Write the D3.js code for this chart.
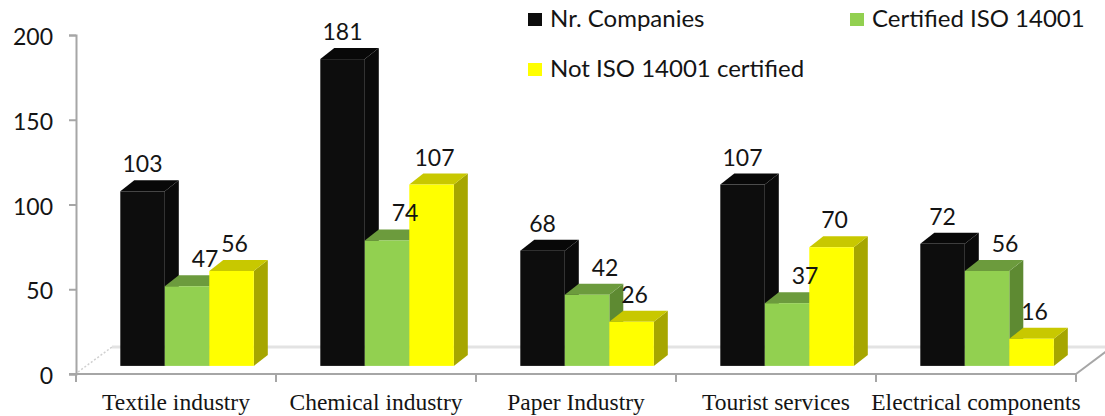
<!DOCTYPE html>
<html>
<head>
<meta charset="utf-8">
<script src="https://cdn.jsdelivr.net/npm/d3@7"></script>
<style>
  body { margin: 0; background: #fff; }
  svg { display: block; }
</style>
</head>
<body>
<svg width="1105" height="416"></svg>
<script>
// data
var categories = ["Textile industry", "Chemical industry", "Paper Industry", "Tourist services", "Electrical components"];
var seriesNames = ["Nr. Companies", "Certified ISO 14001", "Not ISO 14001 certified"];
var nrCompanies = [103, 181, 68, 107, 72];
var certified = [47, 74, 42, 37, 56];
var notCertified = [56, 107, 26, 70, 16];
var yTicks = [0, 50, 100, 150, 200];

// colours per series: front, top, side
var colors = [
  { front: "#0d0d0d", top: "#080808", side: "#0a0a0a" },
  { front: "#92d050", top: "#6c9b3d", side: "#5e8a32" },
  { front: "#ffff00", top: "#c8c800", side: "#a6a600" }
];
var labelShift = [0, 18, 3];

var values = [nrCompanies, certified, notCertified];

var svg = d3.select("svg");
var axisColor = "#a6a6a6";
var textColor = "#141414";
var sans = "Lato, 'Open Sans', sans-serif";

// scales
var x = d3.scaleBand()
    .domain(categories)
    .range([76, 1076]);

// group of ~133px centred in each 200px band
var xInner = d3.scaleBand()
    .domain(d3.range(seriesNames.length))
    .range([33.5, x.bandwidth() - 33]);

var y = d3.scaleLinear()
    .domain([0, 200])
    .range([374, 35]);

// depth of the floor and of the bars
var floorD = { x: 36, y: -27 };
var barOff = { x: floorD.x * 0.3, y: floorD.y * 0.3 };
var barD = { x: 14, y: -11 };

// floor
var x0 = x.range()[0], x1 = x.range()[1], y0 = y(0);
svg.append("line")
    .attr("x1", x0 + floorD.x).attr("y1", y0 + floorD.y)
    .attr("x2", x1 + floorD.x).attr("y2", y0 + floorD.y)
    .attr("stroke", "#e3e3e3").attr("stroke-width", 3);
svg.append("line")
    .attr("x1", x0 + 2).attr("y1", y0 - 2)
    .attr("x2", x0 + floorD.x).attr("y2", y0 + floorD.y)
    .attr("stroke", "#d0d0d0").attr("stroke-width", 1.5)
    .attr("stroke-dasharray", "2,2");
svg.append("line")
    .attr("x1", x1).attr("y1", y0)
    .attr("x2", x1 + floorD.x).attr("y2", y0 + floorD.y)
    .attr("stroke", axisColor).attr("stroke-width", 2);

// y axis
var yAxis = svg.append("g")
    .attr("transform", "translate(" + x0 + ",0)")
    .call(d3.axisLeft(y).tickValues(yTicks).tickSize(7).tickPadding(16));
yAxis.select(".domain").attr("stroke", axisColor).attr("stroke-width", 2);
yAxis.selectAll(".tick line").attr("stroke", axisColor).attr("stroke-width", 2);
yAxis.selectAll(".tick text")
    .attr("dy", "0.42em")
    .attr("fill", textColor)
    .style("font-family", sans)
    .style("font-size", "23px");

// x axis: baseline, boundary ticks, labels
var bounds = categories.map(function(c){ return x(c); }).concat([x1]);
svg.append("line")
    .attr("x1", x0 - 7).attr("y1", y0).attr("x2", x1).attr("y2", y0)
    .attr("stroke", axisColor).attr("stroke-width", 2);
svg.selectAll("line.xtick")
    .data(bounds)
    .enter()
    .append("line")
    .attr("class", "xtick")
    .attr("x1", function(d){ return d; }).attr("x2", function(d){ return d; })
    .attr("y1", y0).attr("y2", y0 + 8)
    .attr("stroke", axisColor).attr("stroke-width", 2);
svg.selectAll("text.xlabel")
    .data(categories)
    .enter()
    .append("text")
    .attr("class", "xlabel")
    .attr("x", function(d){ return x(d) + x.bandwidth() / 2; })
    .attr("y", 410)
    .attr("text-anchor", "middle")
    .attr("fill", textColor)
    .style("font-family", "'Liberation Serif', 'Times New Roman', serif")
    .style("font-size", "23.5px")
    .text(function(d){ return d; });

// bars
var bars = [];
categories.forEach(function(c, i){
    values.forEach(function(vals, s){
        bars.push({ cat: c, s: s, v: vals[i] });
    });
});

var g = svg.selectAll("g.bar")
    .data(bars)
    .enter()
    .append("g")
    .attr("class", "bar");

function pts(arr){ return arr.map(function(p){ return p.join(","); }).join(" "); }

g.each(function(d){
    var el = d3.select(this);
    var left = x(d.cat) + xInner(d.s) + barOff.x;
    var right = left + xInner.bandwidth();
    var base = y(0) + barOff.y;
    var top = y(d.v) + barOff.y;
    var col = colors[d.s];
    el.append("polygon")
        .attr("points", pts([[right, base], [right + barD.x, base + barD.y], [right + barD.x, top + barD.y], [right, top]]))
        .attr("fill", col.side);
    el.append("polygon")
        .attr("points", pts([[left, top], [left + barD.x, top + barD.y], [right + barD.x, top + barD.y], [right, top]]))
        .attr("fill", col.top);
    el.append("rect")
        .attr("x", left).attr("y", top)
        .attr("width", right - left).attr("height", base - top)
        .attr("fill", col.front);
});

// value labels
svg.selectAll("text.val")
    .data(bars)
    .enter()
    .append("text")
    .attr("class", "val")
    .attr("x", function(d){ return x(d.cat) + xInner(d.s) + barOff.x + xInner.bandwidth() / 2 + labelShift[d.s]; })
    .attr("y", function(d){ return y(d.v) + barOff.y - 19; })
    .attr("text-anchor", "middle")
    .attr("fill", textColor)
    .style("font-family", sans)
    .style("font-size", "23px")
    .text(function(d){ return d.v; });

// legend
var legendPos = [[528, 13], [850, 13], [528, 63]];
var lg = svg.selectAll("g.legend")
    .data(seriesNames)
    .enter()
    .append("g")
    .attr("class", "legend")
    .attr("transform", function(d, i){ return "translate(" + legendPos[i][0] + "," + legendPos[i][1] + ")"; });
lg.append("rect")
    .attr("width", 14).attr("height", 13)
    .attr("fill", function(d, i){ return colors[i].front; });
lg.append("text")
    .attr("x", 22).attr("y", 13.5)
    .attr("fill", textColor)
    .style("font-family", sans)
    .style("font-size", "24px")
    .text(function(d){ return d; });
</script>
</body>
</html>
